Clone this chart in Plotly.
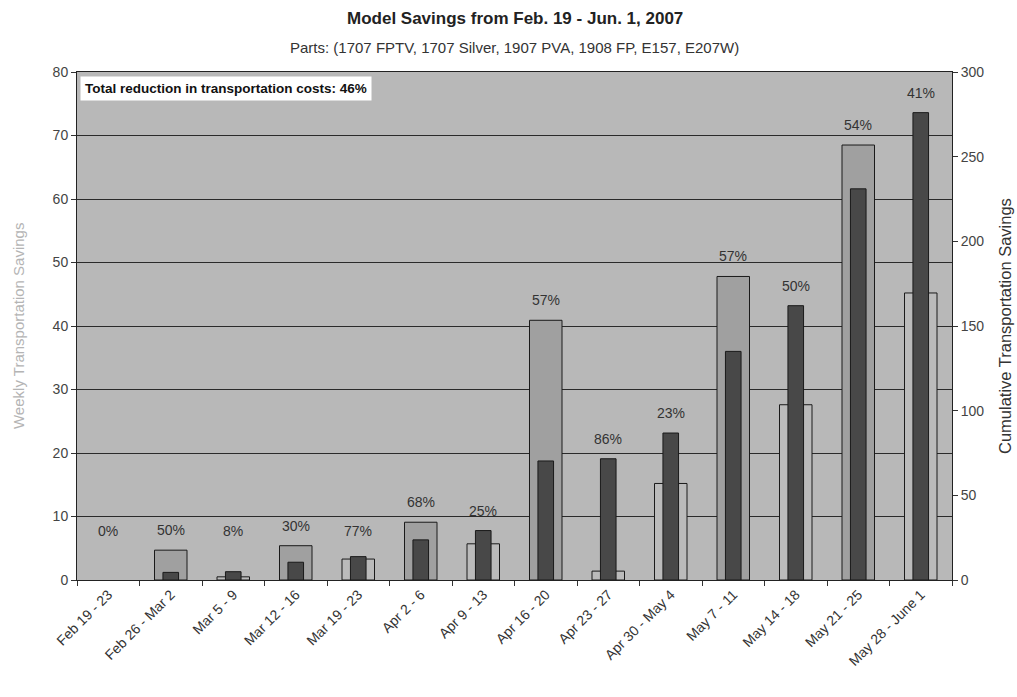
import plotly.graph_objects as go
from plotly.subplots import make_subplots

categories = ["Feb 19 - 23", "Feb 26 - Mar 2", "Mar 5 - 9", "Mar 12 - 16", "Mar 19 - 23",
              "Apr 2 - 6", "Apr 9 - 13", "Apr 16 - 20", "Apr 23 - 27", "Apr 30 - May 4",
              "May 7 - 11", "May 14 - 18", "May 21 - 25", "May 28 - June 1"]
weekly = [0, 4.7, 0.5, 5.4, 3.3, 9.1, 5.7, 40.9, 1.4, 15.2, 47.8, 27.6, 68.5, 45.2]
cumulative = [0, 4.5, 4.9, 10.5, 13.8, 23.7, 29.2, 70.3, 71.6, 86.8, 135, 162, 231, 276]
percents = ["0%", "50%", "8%", "30%", "77%", "68%", "25%", "57%", "86%", "23%",
            "57%", "50%", "54%", "41%"]

LEFT_MAX, RIGHT_MAX = 80, 300
FONT = "Liberation Sans, Arial, sans-serif"

fig = make_subplots(specs=[[{"secondary_y": True}]])

light_colors = ["#a0a0a0" if w > c * LEFT_MAX / RIGHT_MAX else "#bbbbbb"
                for w, c in zip(weekly, cumulative)]
light_lines = [0 if w == 0 else 1 for w in weekly]
dark_lines = [0 if c == 0 else 1 for c in cumulative]

fig.add_trace(go.Bar(x=categories, y=weekly, width=0.52, name="Weekly",
                     marker=dict(color=light_colors,
                                 line=dict(color="#1a1a1a", width=light_lines))),
              secondary_y=False)
fig.add_trace(go.Bar(x=categories, y=cumulative, width=0.25, name="Cumulative",
                     marker=dict(color="#484848",
                                 line=dict(color="#1a1a1a", width=dark_lines))),
              secondary_y=True)

for cat, w, c, p in zip(categories, weekly, cumulative, percents):
    top = max(w, c * LEFT_MAX / RIGHT_MAX, 4.5)
    fig.add_annotation(x=cat, y=top, xref="x", yref="y", text=p, showarrow=False,
                       yanchor="bottom", yshift=10,
                       font=dict(family=FONT, size=14, color="#333333"))

fig.add_annotation(x=0, y=1, xref="paper", yref="paper", xanchor="left", yanchor="top",
                   xshift=3, yshift=-4,
                   text="<b>Total reduction in transportation costs: 46%</b>",
                   showarrow=False, bgcolor="white", borderpad=4,
                   font=dict(family=FONT, size=13.5, color="#111111"))

# titles
fig.add_annotation(x=0.5, y=1.106, xref="paper", yref="paper", xanchor="center",
                   yanchor="middle", showarrow=False,
                   text="<b>Model Savings from Feb. 19 - Jun. 1, 2007</b>",
                   font=dict(family=FONT, size=17, color="#222222"))
fig.add_annotation(x=0.5, y=1.049, xref="paper", yref="paper", xanchor="center",
                   yanchor="middle", showarrow=False,
                   text="Parts: (1707 FPTV, 1707 Silver, 1907 PVA, 1908 FP, E157, E207W)",
                   font=dict(family=FONT, size=15, color="#333333"))
fig.add_annotation(x=-0.0674, y=0.5, xref="paper", yref="paper", xanchor="center",
                   yanchor="middle", showarrow=False, textangle=-90,
                   text="Weekly Transportation Savings",
                   font=dict(family=FONT, size=15, color="#b4b4b4"))
fig.add_annotation(x=1.0606, y=0.5, xref="paper", yref="paper", xanchor="center",
                   yanchor="middle", showarrow=False, textangle=-90,
                   text="Cumulative Transportation Savings",
                   font=dict(family=FONT, size=16.5, color="#333333"))

fig.update_layout(
    width=1017, height=697,
    margin=dict(l=77, r=65, t=72, b=117, autoexpand=False),
    paper_bgcolor="white",
    plot_bgcolor="#b8b8b8",
    barmode="overlay",
    showlegend=False,
    font=dict(family=FONT, size=13, color="#444444"),
)

fig.update_xaxes(type="category", tickangle=-45, tickson="boundaries", domain=[0, 1],
                 ticks="outside", ticklen=5, tickcolor="#333333", mirror=True,
                 showline=True, linecolor="#222222", linewidth=1, automargin=False,
                 showgrid=False, tickfont=dict(family=FONT, size=14, color="#333333"))

fig.update_yaxes(range=[0, LEFT_MAX], dtick=10, ticks="outside", ticklen=5,
                 tickcolor="#333333", showline=True, linecolor="#222222", linewidth=1,
                 showgrid=True, gridcolor="#2a2a2a", gridwidth=1, zeroline=False,
                 automargin=False,
                 tickfont=dict(family=FONT, size=14, color="#444444"),
                 secondary_y=False)
fig.update_yaxes(range=[0, RIGHT_MAX], dtick=50, ticks="outside", ticklen=5,
                 tickcolor="#333333", showline=True, linecolor="#222222", linewidth=1,
                 showgrid=False, zeroline=False, automargin=False,
                 tickfont=dict(family=FONT, size=14, color="#444444"),
                 secondary_y=True)

fig.write_html("out.html")
